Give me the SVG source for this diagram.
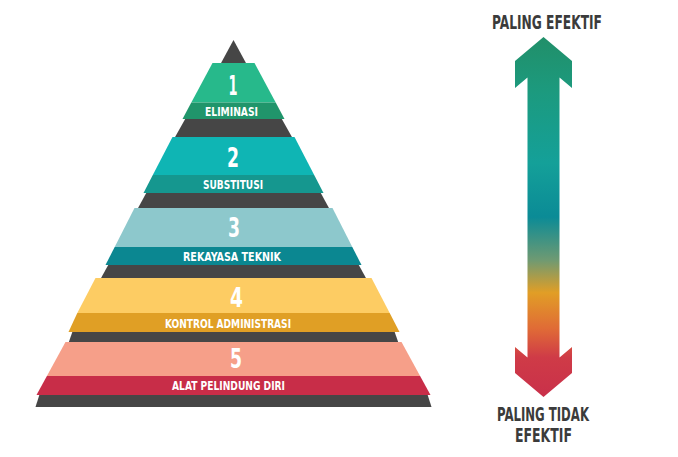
<svg xmlns="http://www.w3.org/2000/svg" width="678" height="457" viewBox="0 0 678 457">
  <defs>
    <linearGradient id="effGrad" gradientUnits="userSpaceOnUse" x1="0" y1="37" x2="0" y2="397">
      <stop offset="0" stop-color="#218f69"/>
      <stop offset="0.15" stop-color="#1c9a7e"/>
      <stop offset="0.35" stop-color="#14a099"/>
      <stop offset="0.5" stop-color="#0b8b96"/>
      <stop offset="0.62" stop-color="#6f9a72"/>
      <stop offset="0.71" stop-color="#e19e26"/>
      <stop offset="0.81" stop-color="#e06b36"/>
      <stop offset="0.89" stop-color="#cf3b47"/>
      <stop offset="1" stop-color="#c9304a"/>
    </linearGradient>
  </defs>
  <style>
    .shade { fill: #464646; }
    .num { font-family: "DejaVu Sans Condensed", "DejaVu Sans", sans-serif; font-weight: bold; font-size: 26px; fill: #ffffff; text-anchor: middle; }
    .lbl { font-family: "DejaVu Sans Condensed", "DejaVu Sans", sans-serif; font-weight: bold; font-size: 13px; fill: #ffffff; }
    .cap { font-family: "DejaVu Sans Condensed", "DejaVu Sans", sans-serif; font-weight: bold; font-size: 19px; fill: #3b3b3b; }
  </style>
  <rect width="678" height="457" fill="#ffffff"/>

  <!-- grey pyramid body showing between the tiers -->
  <g id="pyramid-body">
    <polygon class="shade" points="233.5,40 220.5,64 246.5,64"/>
    <polygon class="shade" points="185.5,118.5 281.5,118.5 292.5,138 174.5,138"/>
    <polygon class="shade" points="146.5,192.5 320.5,192.5 329.5,209 137.5,209"/>
    <polygon class="shade" points="108.5,264.5 358.5,264.5 366.5,279 100.5,279"/>
    <polygon class="shade" points="72.5,331.5 394.5,331.5 398.5,343 68.5,343"/>
    <polygon class="shade" points="39.5,394.5 427.5,394.5 431.5,407 35.5,407"/>
  </g>

  <g id="tier-1">
    <polygon fill="#27b98b" points="212.5,63 254.5,63 275.7,102.5 191.3,102.5"/>
    <polygon fill="#20956b" points="191.3,102.5 275.7,102.5 284.5,119 182.5,119"/>
    <text class="num" x="233" y="95" textLength="9" lengthAdjust="spacingAndGlyphs">1</text>
    <text class="lbl" x="205" y="116" textLength="53" lengthAdjust="spacingAndGlyphs">ELIMINASI</text>
  </g>

  <g id="tier-2">
    <polygon fill="#0fb5b4" points="172.5,137 294.5,137 314.2,175 152.8,175"/>
    <polygon fill="#15978f" points="152.8,175 314.2,175 323.5,193 143.5,193"/>
    <text class="num" x="233" y="167" textLength="12" lengthAdjust="spacingAndGlyphs">2</text>
    <text class="lbl" x="203" y="189" textLength="60" lengthAdjust="spacingAndGlyphs">SUBSTITUSI</text>
  </g>

  <g id="tier-3">
    <polygon fill="#8dc8cc" points="134.5,208 332.5,208 352.3,247 114.7,247"/>
    <polygon fill="#0b8791" points="114.7,247 352.3,247 361.5,265 105.5,265"/>
    <text class="num" x="234" y="237" textLength="12" lengthAdjust="spacingAndGlyphs">3</text>
    <text class="lbl" x="183" y="260.5" textLength="98" lengthAdjust="spacingAndGlyphs">REKAYASA TEKNIK</text>
  </g>

  <g id="tier-4">
    <polygon fill="#fdcc63" points="95.5,278 371.5,278 389.7,313 77.3,313"/>
    <polygon fill="#e09f25" points="77.3,313 389.7,313 399.5,332 68.5,332"/>
    <text class="num" x="236.5" y="306.5" textLength="13" lengthAdjust="spacingAndGlyphs">4</text>
    <text class="lbl" x="165" y="327.5" textLength="126" lengthAdjust="spacingAndGlyphs">KONTROL ADMINISTRASI</text>
  </g>

  <g id="tier-5">
    <polygon fill="#f69f89" points="65.5,342 401.5,342 420.1,376 46.9,376"/>
    <polygon fill="#c82d48" points="46.9,376 420.1,376 430.5,395 36.5,395"/>
    <text class="num" x="236" y="368" textLength="12" lengthAdjust="spacingAndGlyphs">5</text>
    <text class="lbl" x="172" y="390" textLength="113" lengthAdjust="spacingAndGlyphs">ALAT PELINDUNG DIRI</text>
  </g>

  <!-- double-headed effectiveness scale -->
  <g id="effectiveness-arrow">
    <polygon fill="url(#effGrad)" points="543.5,37 515,61 515,88 527.5,77.5 527.5,357.5 515,347 515,373 543.5,397 572,373 572,347 559.5,357.5 559.5,77.5 572,88 572,61"/>
  </g>

  <g id="label-top">
    <text class="cap" x="492" y="29" textLength="110" lengthAdjust="spacingAndGlyphs">PALING EFEKTIF</text>
  </g>
  <g id="label-bottom">
    <text class="cap" x="497" y="421" textLength="92" lengthAdjust="spacingAndGlyphs">PALING TIDAK</text>
    <text class="cap" x="515" y="442" textLength="57" lengthAdjust="spacingAndGlyphs">EFEKTIF</text>
  </g>
</svg>
